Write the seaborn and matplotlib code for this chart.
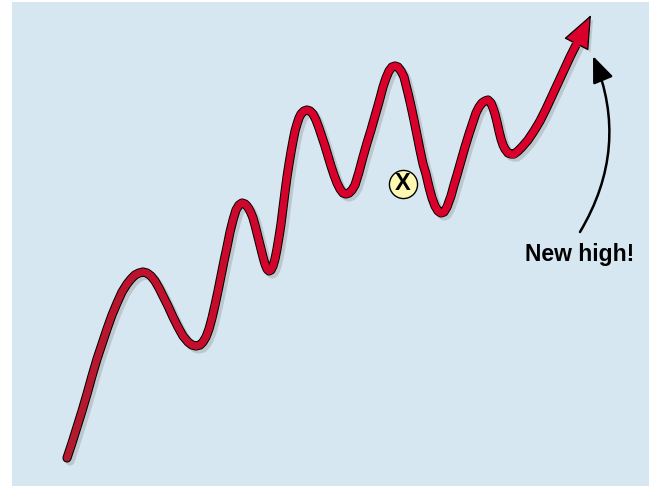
import numpy as np
import pandas as pd
import matplotlib
matplotlib.use("Agg")
import matplotlib.pyplot as plt
import matplotlib.patheffects as pe
from matplotlib.collections import LineCollection
from matplotlib.colors import LinearSegmentedColormap
import seaborn as sns

# ==========================================
# DATA
# ==========================================
time_steps = [67, 72, 77, 82, 87, 92, 97, 102, 107, 112, 117, 122, 127, 131, 135, 139,
              143, 147, 151, 155, 159, 163, 168, 173, 178, 183, 188, 192, 196, 200,
              203, 206, 209, 212, 215, 218, 221, 224, 227, 230, 233, 236, 239, 242,
              245, 247, 249, 251, 253, 255, 257, 259, 261, 263, 265, 267, 269, 271,
              273, 275, 277, 279, 281, 283, 285, 287, 289, 291, 293, 295, 297, 299,
              301, 304, 307, 310, 313, 316, 319, 322, 325, 328, 331, 334, 337, 340,
              343, 346, 349, 352, 355, 359, 363, 367, 371, 375, 379, 383, 386, 389,
              392, 395, 398, 401, 404, 408, 411, 414, 417, 420, 423, 426, 429, 432,
              435, 438, 441, 444, 447, 451, 454, 457, 461, 465, 469, 473, 476, 479,
              482, 485, 488, 491, 493, 495, 497, 499, 501, 503, 505, 508, 511, 514,
              518, 522, 528, 534, 540, 546, 552, 558, 564, 570, 577]
price = [28, 43, 59, 75, 92, 110, 127, 142, 157, 171, 183, 194, 202, 207, 211, 213,
         214, 213, 210, 205, 198, 190, 180, 169, 159, 150, 144, 141, 140, 141,
         144, 149, 157, 168, 181, 195, 210, 225, 239, 254, 266, 276, 281, 283,
         282, 280, 277, 273, 268, 261, 253, 245, 237, 229, 222, 217, 215, 216,
         220, 227, 237, 249, 262, 278, 294, 309, 322, 334, 345, 355, 362, 368,
         372, 375, 376, 375, 372, 366, 358, 349, 340, 330, 320, 311, 303, 297,
         293, 292, 293, 296, 301, 314, 329, 343, 356, 370, 384, 399, 408, 415,
         419, 420, 419, 415, 409, 393, 380, 366, 351, 336, 322, 312, 299, 288,
         280, 275, 273, 274, 279, 290, 301, 311, 325, 339, 352, 364, 373, 379,
         383, 385, 386, 383, 378, 372, 364, 355, 347, 341, 337, 333, 332, 332,
         335, 339, 346, 355, 365, 377, 390, 403, 416, 429, 443]
high_point = (591, 471)

marker_x = [403]
marker_y = [302]
marker_label = "X"

note_text = "New high!"
note_pos = (580, 225)
note_arrow_start = (580, 254)
note_arrow_end = (593, 430)

# ==========================================
# STYLE
# ==========================================
BG_COLOR = "#d7e7f2"
SHADOW = "#b7c0c6"
RED_DARK = "#b21a2e"
RED_BRIGHT = "#d9002b"
FONTS = ["Liberation Sans Narrow", "Liberation Sans", "DejaVu Sans"]
OUT_FILE = "out.png"


def draw_chart():
    sns.set_theme(style="white")
    plt.rcParams["font.family"] = FONTS
    plt.rcParams["text.color"] = "black"

    df = pd.DataFrame({"t": time_steps, "price": price})

    fig = plt.figure(figsize=(6.49, 4.86), dpi=100, facecolor="white")
    ax = fig.add_axes([12 / 649, 0, 637 / 649, 484 / 486])
    ax.set_facecolor(BG_COLOR)
    ax.set_xlim(12, 649)
    ax.set_ylim(0, 484)
    ax.set_xticks([])
    ax.set_yticks([])
    sns.despine(ax=ax, left=True, bottom=True)

    # black outline + drop shadow
    sns.lineplot(data=df, x="t", y="price", sort=False, estimator=None,
                 color="black", linewidth=6.6, ax=ax, zorder=2,
                 solid_capstyle="round", solid_joinstyle="round",
                 path_effects=[pe.SimpleLineShadow(offset=(2.2, -2.2), shadow_color=SHADOW, alpha=0.8),
                               pe.Normal()])

    # arrow head at the new high
    head = ax.annotate("", xy=high_point, xytext=(time_steps[-1], price[-1]),
                       arrowprops=dict(arrowstyle="-|>,head_length=2.2,head_width=0.9",
                                       mutation_scale=10, fc=RED_BRIGHT, ec="black",
                                       lw=0.9, shrinkA=0, shrinkB=0),
                       zorder=3)
    head.arrow_patch.set_path_effects([
        pe.SimplePatchShadow(offset=(2, -2), shadow_rgbFace=SHADOW, alpha=0.8),
        pe.Normal()])

    # red core with dark-to-bright gradient
    pts = np.column_stack([df["t"], df["price"]])
    segs = np.stack([pts[:-1], pts[1:]], axis=1)
    cmap = LinearSegmentedColormap.from_list("redfade", [RED_DARK, RED_BRIGHT])
    frac = np.clip((pts[:-1, 0] - 67) / 260, 0, 1)
    lc = LineCollection(segs, colors=cmap(frac), linewidths=5.1,
                        capstyle="round", joinstyle="round", zorder=4)
    ax.add_collection(lc)

    # yellow "X" marker
    sns.scatterplot(x=marker_x, y=marker_y, s=410, color="#fff8b2",
                    edgecolor="black", linewidth=1, ax=ax, zorder=5)
    ax.text(marker_x[0], marker_y[0], marker_label, ha="center", va="center",
            fontsize=17, fontweight="bold", color="black", zorder=6)

    # annotation
    ax.annotate("", xy=note_arrow_end, xytext=note_arrow_start,
                arrowprops=dict(arrowstyle="-|>,head_length=1.6,head_width=0.65",
                                mutation_scale=10, connectionstyle="arc3,rad=0.25",
                                color="black", lw=1.8, shrinkA=0, shrinkB=0))
    ax.text(note_pos[0], note_pos[1], note_text, ha="center", va="baseline",
            fontsize=16.5, fontweight="bold", color="black")

    fig.savefig(OUT_FILE, dpi=100, facecolor="white")
    print(f"saved {OUT_FILE}")


if __name__ == "__main__":
    draw_chart()
